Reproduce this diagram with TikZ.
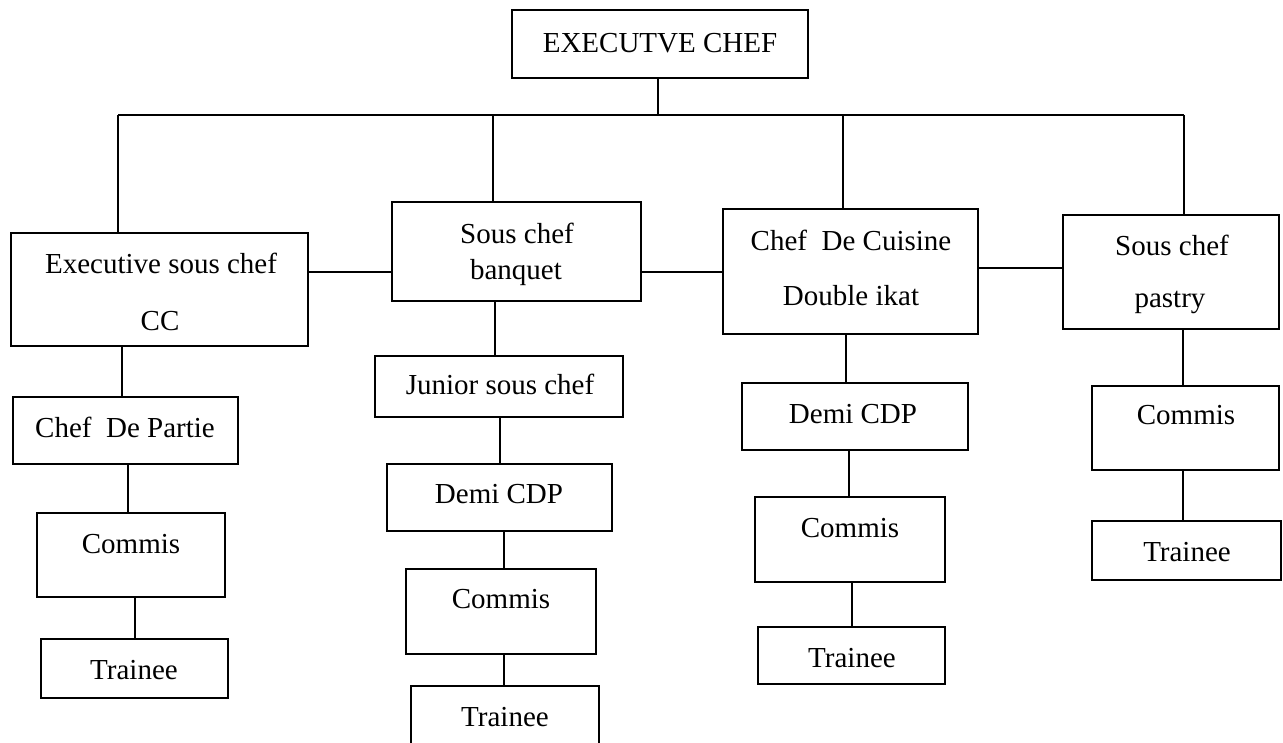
\documentclass[tikz,border=0pt]{standalone}
\usepackage{fontspec}
\setmainfont{Liberation Serif}
\usetikzlibrary{fit}
\begin{document}
\begin{tikzpicture}[x=1pt,y=-1pt,
  box/.style={draw, line width=1.6pt, inner sep=0pt},
  conn/.style={line width=1.2pt},
  lbl/.style={anchor=base, inner sep=0pt, font=\fontsize{29}{32}\selectfont}]
\useasboundingbox (0,0) rectangle (1283,742);
\clip (0,0) rectangle (1283,742);
\fill[white] (0,0) rectangle (1283,742);
% boxes
\node[box, fit={(512,10) (808,78)}] (top) {};
\node[box, fit={(11,233) (308,346)}] (esc) {};
\node[box, fit={(392,202) (641,301)}] (banq) {};
\node[box, fit={(723,209) (978,334)}] (cui) {};
\node[box, fit={(1063,215) (1279,329)}] (pas) {};
% column 1
\node[box, fit={(13,397) (238,464)}] (cdp) {};
\node[box, fit={(37,513) (225,597)}] (com1) {};
\node[box, fit={(41,639) (228,698)}] (tr1) {};
% column 2
\node[box, fit={(375,356) (623,417)}] (jun) {};
\node[box, fit={(387,464) (612,531)}] (dem2) {};
\node[box, fit={(406,569) (596,654)}] (com2) {};
\node[box, fit={(411,686) (599,770)}] (tr2) {};
% column 3
\node[box, fit={(742,383) (968,450)}] (dem3) {};
\node[box, fit={(755,497) (945,582)}] (com3) {};
\node[box, fit={(758,627) (945,684)}] (tr3) {};
% column 4
\node[box, fit={(1092,386) (1279,470)}] (com4) {};
\node[box, fit={(1092,521) (1281,580)}] (tr4) {};
% labels
\node[lbl] (ttop) at (660,52) {EXECUTVE CHEF};
\node[lbl] (tesc1) at (161,273) {Executive sous chef};
\node[lbl] (tesc2) at (160,330) {CC};
\node[lbl] (tban1) at (517,243) {Sous chef};
\node[lbl] (tban2) at (516,279) {banquet};
\node[lbl] (tcui1) at (851,250) {Chef\ \ De Cuisine};
\node[lbl] (tcui2) at (851,305) {Double ikat};
\node[lbl] (tpas1) at (1172,255) {Sous chef};
\node[lbl] (tpas2) at (1170,307) {pastry};
\node[lbl] (tcdp) at (125,437) {Chef\ \ De Partie};
\node[lbl] (tcom1) at (131,553) {Commis};
\node[lbl] (ttr1) at (134,679) {Trainee};
\node[lbl] (tjun) at (500,394) {Junior sous chef};
\node[lbl] (tdem2) at (499,503) {Demi CDP};
\node[lbl] (tcom2) at (501,608) {Commis};
\node[lbl] (ttr2) at (505,726) {Trainee};
\node[lbl] (tdem3) at (853,423) {Demi CDP};
\node[lbl] (tcom3) at (850,537) {Commis};
\node[lbl] (ttr3) at (852,667) {Trainee};
\node[lbl] (tcom4) at (1186,424) {Commis};
\node[lbl] (ttr4) at (1187,561) {Trainee};
% bus
\coordinate (busL) at (118,115);
\coordinate (busR) at (1184,115);
\coordinate (d0) at (658,115);
\coordinate (d2) at (493,115);
\coordinate (d3) at (843,115);
\draw[conn] (d0 |- top.south) -- (d0);
\draw[conn] (busL) -- (busR);
\draw[conn] (busL) -- (busL |- esc.north);
\draw[conn] (d2) -- (d2 |- banq.north);
\draw[conn] (d3) -- (d3 |- cui.north);
\draw[conn] (busR) -- (busR |- pas.north);
% horizontal links
\coordinate (h1) at (0,272);
\coordinate (h2) at (0,268);
\draw[conn] (esc.east |- h1) -- (banq.west |- h1);
\draw[conn] (banq.east |- h1) -- (cui.west |- h1);
\draw[conn] (cui.east |- h2) -- (pas.west |- h2);
% column 1 links
\coordinate (v11) at (122,0);
\coordinate (v12) at (128,0);
\coordinate (v13) at (135,0);
\draw[conn] (v11 |- esc.south) -- (v11 |- cdp.north);
\draw[conn] (v12 |- cdp.south) -- (v12 |- com1.north);
\draw[conn] (v13 |- com1.south) -- (v13 |- tr1.north);
% column 2 links
\coordinate (v21) at (495,0);
\coordinate (v22) at (500,0);
\coordinate (v23) at (504,0);
\draw[conn] (v21 |- banq.south) -- (v21 |- jun.north);
\draw[conn] (v22 |- jun.south) -- (v22 |- dem2.north);
\draw[conn] (v23 |- dem2.south) -- (v23 |- com2.north);
\draw[conn] (v23 |- com2.south) -- (v23 |- tr2.north);
% column 3 links
\coordinate (v31) at (846,0);
\coordinate (v32) at (849,0);
\coordinate (v33) at (852,0);
\draw[conn] (v31 |- cui.south) -- (v31 |- dem3.north);
\draw[conn] (v32 |- dem3.south) -- (v32 |- com3.north);
\draw[conn] (v33 |- com3.south) -- (v33 |- tr3.north);
% column 4 links
\coordinate (v41) at (1183,0);
\draw[conn] (v41 |- pas.south) -- (v41 |- com4.north);
\draw[conn] (v41 |- com4.south) -- (v41 |- tr4.north);
\end{tikzpicture}
\end{document}
